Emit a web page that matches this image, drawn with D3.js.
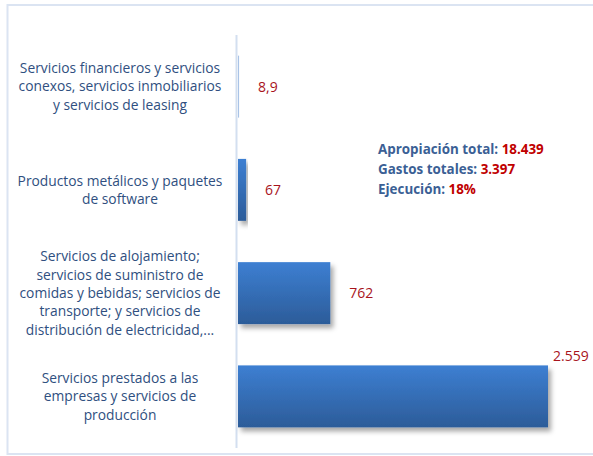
<!DOCTYPE html>
<html>
<head>
<meta charset="utf-8">
<script src="https://cdn.jsdelivr.net/npm/d3@7"></script>
<style>
  body { margin: 0; background: #fff; }
  text { font-family: "Open Sans", Lato, sans-serif; }
</style>
</head>
<body>
<script>
const w = 593;
const h = 456;

// data
const categories = [
  "Servicios financieros y servicios conexos, servicios inmobiliarios y servicios de leasing",
  "Productos metálicos y paquetes de software",
  "Servicios de alojamiento; servicios de suministro de comidas y bebidas; servicios de transporte; y servicios de distribución de electricidad,...",
  "Servicios prestados a las empresas y servicios de producción"
];
const categoryLines = [
  ["Servicios financieros y servicios", "conexos, servicios inmobiliarios", "y servicios de leasing"],
  ["Productos metálicos y paquetes", "de software"],
  ["Servicios de alojamiento;", "servicios de suministro de", "comidas y bebidas; servicios de", "transporte; y servicios de", "distribución de electricidad,..."],
  ["Servicios prestados a las", "empresas y servicios de", "producción"]
];
const values = [8.9, 67, 762, 2559];
const valueLabels = ["8,9", "67", "762", "2.559"];
const summary = [
  { label: "Apropiación total: ", value: "18.439" },
  { label: "Gastos totales: ", value: "3.397" },
  { label: "Ejecución: ", value: "18%" }
];

const textBlue = "#2f4f80";
const valueRed = "#a8141c";

const svg = d3.select("body")
  .append("svg")
  .attr("width", w)
  .attr("height", h);

const defs = svg.append("defs");
const grad = defs.append("linearGradient")
  .attr("id", "barGrad")
  .attr("x1", 0).attr("y1", 0).attr("x2", 0).attr("y2", 1);
grad.append("stop").attr("offset", "0%").attr("stop-color", "#3d7fd2");
grad.append("stop").attr("offset", "100%").attr("stop-color", "#2c5c99");

const shadow = defs.append("filter")
  .attr("id", "shadow")
  .attr("x", "-10%").attr("y", "-10%")
  .attr("width", "130%").attr("height", "140%");
shadow.append("feDropShadow")
  .attr("dx", 3).attr("dy", 4)
  .attr("stdDeviation", 2.5)
  .attr("flood-color", "#000")
  .attr("flood-opacity", 0.35);

// outer frame
svg.append("path")
  .attr("d", "M" + w + ",5 H7.5 V454 H" + w)
  .attr("fill", "none")
  .attr("stroke", "#dbe4f2")
  .attr("stroke-width", 2);

const x = d3.scaleLinear()
  .domain([0, 2559])
  .range([238, 548]);

const y = d3.scaleBand()
  .domain(categories)
  .range([35, 448])
  .paddingInner(0.4)
  .paddingOuter(0.2);

// axis line
svg.append("line")
  .attr("x1", 236.5).attr("x2", 236.5)
  .attr("y1", 35).attr("y2", 448)
  .attr("stroke", "#d3dff0")
  .attr("stroke-width", 2);

// bars
svg.append("g")
  .selectAll("rect")
  .data(values)
  .enter()
  .append("rect")
  .attr("x", x(0))
  .attr("y", (d, i) => y(categories[i]))
  .attr("width", d => Math.max(1, x(d) - x(0)))
  .attr("height", y.bandwidth())
  .attr("fill", (d, i) => i === 0 ? "#a9c3e6" : "url(#barGrad)")
  .attr("filter", (d, i) => i === 0 ? null : "url(#shadow)");

// value labels
svg.append("g")
  .selectAll("text")
  .data(values)
  .enter()
  .append("text")
  .attr("x", (d, i) => i === 3 ? x(d) + 5 : x(d) + 19)
  .attr("y", (d, i) => i === 3 ? y(categories[i]) - 9 : y(categories[i]) + y.bandwidth() / 2)
  .attr("dy", "0.35em")
  .attr("fill", valueRed)
  .attr("font-size", 14)
  .text((d, i) => valueLabels[i]);

// category labels
const lh = 18.3;
const cat = svg.append("g")
  .selectAll("text")
  .data(categories)
  .enter()
  .append("text")
  .attr("text-anchor", "middle")
  .attr("fill", textBlue)
  .attr("font-size", 13.8);

cat.selectAll("tspan")
  .data((d, i) => categoryLines[i].map((t, j, arr) => ({ t, j, n: arr.length, c: d })))
  .enter()
  .append("tspan")
  .attr("x", 120)
  .attr("y", d => y(d.c) + y.bandwidth() / 2 + (d.j - (d.n - 1) / 2) * lh)
  .attr("dy", "0.35em")
  .text(d => d.t);

// summary box
const sum = svg.append("g")
  .selectAll("text")
  .data(summary)
  .enter()
  .append("text")
  .attr("x", 378)
  .attr("y", (d, i) => 154 + i * 20)
  .attr("font-size", 13.4)
  .attr("font-weight", "bold");
sum.append("tspan").attr("fill", "#3b5f95").text(d => d.label);
sum.append("tspan").attr("fill", "#c00000").text(d => d.value);
</script>
</body>
</html>
